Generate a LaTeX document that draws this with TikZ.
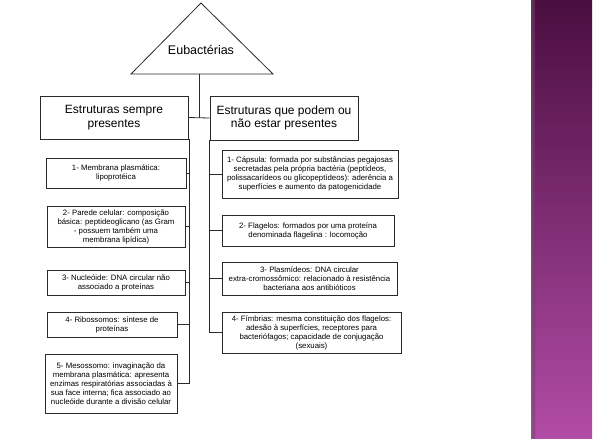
\documentclass[tikz,border=0pt]{standalone}
\usepackage{fontspec}
\setmainfont{Liberation Sans}
\usetikzlibrary{positioning}
\definecolor{roxoA}{HTML}{4A0E40}
\definecolor{roxoB}{HTML}{7C2A70}
\definecolor{roxoC}{HTML}{B24CA6}
\definecolor{linha}{HTML}{2A2A2A}
\begin{document}
\begin{tikzpicture}[
    x=1pt, y=-1pt,
    cabeca/.style={draw=linha, line width=0.8pt, align=center, inner sep=0pt, font=\fontsize{12}{13.5}\selectfont},
    caixa/.style={draw=linha, line width=0.8pt, align=center, inner sep=0pt, font=\fontsize{7.8}{9}\selectfont},
    liga/.style={draw=linha, line width=0.8pt}
]
\useasboundingbox (0,0) rectangle (600,439);

% Faixa lateral
\shade[top color=roxoA, middle color=roxoB, bottom color=roxoC] (531,0) rectangle (592,439);
\shade[left color=black!60, right color=roxoB, opacity=0.5] (531,0) rectangle (535,439);

% Triângulo do título
\draw[liga] (131,74) -- (201,3) -- (273,74) -- cycle;
\node[font=\fontsize{12.5}{14}\selectfont] (eub) at (201,50) {Eubactérias};
\coordinate (base) at (199,74);

% Cabeçalhos
\node[cabeca, minimum width=148, minimum height=43] (sempre) at (114,117.5) {Estruturas sempre\\presentes};
\node[cabeca, minimum width=148, minimum height=44] (talvez) at (284,118) {Estruturas que podem ou\\não estar presentes};
\draw[liga] (base) -- (base |- sempre.east);
\draw[liga] (sempre.east) -- (talvez.west);

% Eixos das colunas
\coordinate (eixoE) at (189,139);
\coordinate (eixoD) at (209,140);

% Coluna esquerda
\node[caixa, minimum width=140, minimum height=30] (l1) at (116,173) {1- Membrana plasmática:\\lipoprotéica};
\node[caixa, minimum width=138, minimum height=41] (l2) at (116,226.5) {2- Parede celular: composição\\básica: peptideoglicano (as Gram\\- possuem também uma\\membrana lipídica)};
\node[caixa, minimum width=138, minimum height=25] (l3) at (116,282.5) {3- Nucleóide: DNA circular não\\associado a proteínas};
\node[caixa, minimum width=130, minimum height=25] (l4) at (112,324.5) {4- Ribossomos: síntese de\\proteínas};
\node[caixa, minimum width=132, minimum height=59] (l5) at (111,383.5) {5- Mesossomo: invaginação da\\membrana plasmática: apresenta\\enzimas respiratórias associadas à\\sua face interna; fica associado ao\\nucleóide durante a divisão celular};

% Coluna direita
\node[caixa, minimum width=176, minimum height=48] (r1) at (310,174) {1- Cápsula: formada por substâncias pegajosas\\secretadas pela própria bactéria (peptídeos,\\polissacarídeos ou glicopeptídeos): aderência a\\superfícies e aumento da patogenicidade};
\node[caixa, minimum width=172, minimum height=31] (r2) at (308,230.5) {2- Flagelos: formados por uma proteína\\denominada flagelina : locomoção};
\node[caixa, minimum width=175, minimum height=33] (r3) at (309.5,278.5) {3- Plasmídeos: DNA circular\\extra-cromossômico: relacionado à resistência\\bacteriana aos antibióticos};
\node[caixa, minimum width=179, minimum height=41] (r4) at (311.5,332.5) {4- Fímbrias: mesma constituição dos flagelos:\\adesão à superfícies, receptores para\\bacteriófagos; capacidade de conjugação\\(sexuais)};

% Ligações às colunas
\foreach \b in {l1,l2,l3,l4,l5}
    \draw[liga] (\b.east) -- (\b.east -| eixoE);
\foreach \b in {r1,r2,r3,r4}
    \draw[liga] (\b.west) -- (\b.west -| eixoD);
\draw[liga] (eixoE) -- (eixoE |- l5.east);
\draw[liga] (eixoD) -- (eixoD |- r4.west);
\end{tikzpicture}
\end{document}
